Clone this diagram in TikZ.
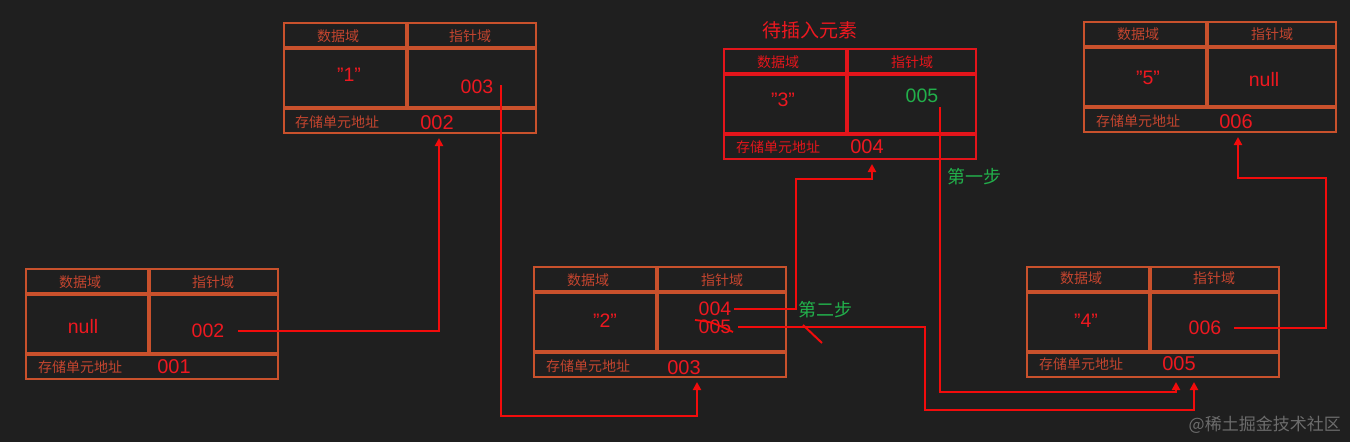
\documentclass[tikz,border=0pt]{standalone}
\usepackage{fontspec}
\setmainfont{Liberation Sans}
\newfontfamily\cjk{Noto Sans CJK SC}
\usetikzlibrary{arrows.meta,calc}
\definecolor{bg}{HTML}{1F1F1F}
\definecolor{boxc}{HTML}{C9512C}
\definecolor{insc}{HTML}{E3151B}
\definecolor{lblc}{HTML}{C4452F}
\definecolor{valc}{HTML}{EE1820}
\definecolor{grn}{HTML}{22B04B}
\definecolor{conc}{HTML}{F20C0C}
\definecolor{wmc}{HTML}{6C6C6C}
\newcommand\llbox[4]{%
  \node[draw=#4, line width=2.5pt, minimum width=252pt, minimum height=110pt,
        anchor=north west, inner sep=0pt, outer sep=0pt] (#1) at (#2,#3) {};
  \draw[#4, line width=3.5pt] ([yshift=-25pt]#1.north west) -- ([yshift=-25pt]#1.north east);
  \draw[#4, line width=3.5pt] ([yshift=-85pt]#1.north west) -- ([yshift=-85pt]#1.north east);
  \draw[#4, line width=3.5pt] ([xshift=123pt]#1.north west) -- ([xshift=123pt,yshift=-85pt]#1.north west);
}
\begin{document}
\begin{tikzpicture}[x=1pt,y=-1pt,
  hdr/.style={inner sep=0pt, text=lblc, font=\cjk\fontsize{14}{16}\selectfont},
  val/.style={inner sep=0pt, text=valc, font=\fontsize{19.5}{22}\selectfont},
  addr/.style={inner sep=0pt, text=valc, font=\fontsize{20}{22}\selectfont},
  steplbl/.style={inner sep=0pt, text=grn, font=\cjk\fontsize{18}{20}\selectfont},
  conn/.style={draw=conc, line width=2.4pt, -{Triangle[length=8pt,width=8pt]}}]
\fill[bg] (0,0) rectangle (1350,442);
\useasboundingbox (0,0) rectangle (1350,442);

% boxes
\llbox{bA}{26}{269}{boxc}
\llbox{bB}{284}{23}{boxc}
\llbox{bC}{724}{49}{insc}
\llbox{bE}{1084}{22}{boxc}
\llbox{bD}{534}{267}{boxc}
\llbox{bF}{1027}{267}{boxc}

% box A
\node[hdr] (aH1) at (80,282) {数据域};
\node[hdr] (aH2) at (213,282) {指针域};
\node[val] (aV) at (83,327) {null};
\node[val] (aP) at (208,331) {002};
\node[hdr, anchor=west] (aL) at (38,367) {存储单元地址};
\node[addr] (aA) at (174,367) {001};

% box B
\node[hdr] (bH1) at (338,36) {数据域};
\node[hdr] (bH2) at (470,36) {指针域};
\node[val] (bV) at (349,75) {"1"};
\node[val] (bP) at (477,87) {003};
\node[hdr, anchor=west] (bL) at (295,122) {存储单元地址};
\node[addr] (bA) at (437,123) {002};

% box C (inserted)
\node[inner sep=0pt, text=valc, font=\cjk\fontsize{19}{21}\selectfont] (cT) at (810,30) {待插入元素};
\node[hdr, text=insc] (cH1) at (778,62) {数据域};
\node[hdr, text=insc] (cH2) at (912,62) {指针域};
\node[val] (cV) at (783,100) {"3"};
\node[val, text=grn] (cP) at (922,96) {005};
\node[hdr, text=insc, anchor=west] (cL) at (736,147) {存储单元地址};
\node[addr] (cA) at (867,147) {004};

% box E
\node[hdr] (eH1) at (1138,34) {数据域};
\node[hdr] (eH2) at (1272,34) {指针域};
\node[val] (eV) at (1148,78) {"5"};
\node[val] (eP) at (1264,80) {null};
\node[hdr, anchor=west] (eL) at (1096,121) {存储单元地址};
\node[addr] (eA) at (1236,122) {006};

% box D
\node[hdr] (dH1) at (588,280) {数据域};
\node[hdr] (dH2) at (722,280) {指针域};
\node[val] (dV) at (605,321) {"2"};
\node[val] (dP1) at (715,309) {004};
\node[val] (dP2) at (715,327) {005};
\node[hdr, anchor=west] (dL) at (546,366) {存储单元地址};
\node[addr] (dA) at (684,368) {003};

% box F
\node[hdr] (fH1) at (1081,278) {数据域};
\node[hdr] (fH2) at (1214,278) {指针域};
\node[val] (fV) at (1086,321) {"4"};
\node[val] (fP) at (1205,328) {006};
\node[hdr, anchor=west] (fL) at (1039,364) {存储单元地址};
\node[addr] (fA) at (1179,364) {005};

% step labels
\node[steplbl] (s1) at (974,177) {第一步};
\node[steplbl] (s2) at (825,310) {第二步};

% watermark
\node[inner sep=0pt, text=wmc, font=\cjk\fontsize{17}{19}\selectfont, anchor=east] (wm) at (1341,425) {@稀土掘金技术社区};

% arrow end points
\coordinate (eB) at ($(bB.south west)+(155,5)$);
\coordinate (eD) at ($(bD.south west)+(163,5)$);
\coordinate (eC) at ($(bC.south west)+(148,5)$);
\coordinate (eF1) at ($(bF.south west)+(149,5)$);
\coordinate (eF2) at ($(bF.south west)+(167,5)$);
\coordinate (eE) at ($(bE.south west)+(154,5)$);
\coordinate (sB) at (501,85);
\coordinate (sC) at (940,107);

% connectors
\draw[conn] ([xshift=14pt]aP.east) -| (eB);
\draw[conn] (sB) -- (501,416) -| (eD);
\draw[conn] ([xshift=3pt]dP1.east) -| (796,179) -| (eC);
\draw[conn] ([xshift=7pt]dP2.east) -| (925,410) -| (eF2);
\draw[conn] (sC) -- (940,392) -| (eF1);
\draw[conn] ([xshift=13pt]fP.east) -| (1326,178) -| (eE);

% strike-through and cut mark
\draw[conc, line width=1.8pt] (695,320) .. controls (712,322) .. (733,332);
\draw[conc, line width=2pt] (803,325) -- (822,343);
\end{tikzpicture}
\end{document}
